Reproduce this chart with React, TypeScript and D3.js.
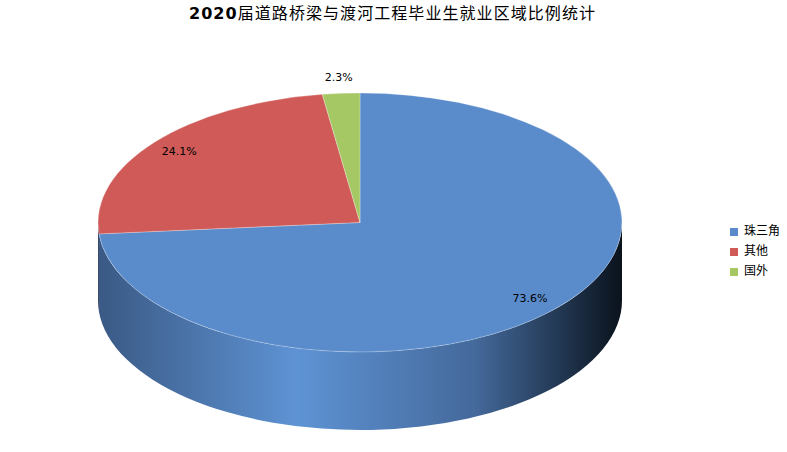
import React from "react";
import * as d3 from "d3";

const categories = ["珠三角", "其他", "国外"];
const shares = [73.6, 24.1, 2.3];
const labels = ["73.6%", "24.1%", "2.3%"];
const colors = ["#5a8bcb", "#cf5a57", "#a6c864"];
const sideStops = [
  ["#3a5984", "#5e93d4", "#44699b", "#223853", "#0a121c"],
  ["#3c4666", "#d4625e", "#9a4542", "#5a2826", "#1c0c0b"],
  ["#62783a", "#a9cc68", "#7c9a46", "#48592a", "#161c0c"],
];
const title = "2020届道路桥梁与渡河工程毕业生就业区域比例统计";

const W = 787;
const H = 452;
const cx = 360;
const cy = 222.5;
const rx = 262;
const ry = 129.5;
const depth = 78;

function pt(a: number, dy = 0): [number, number] {
  return [cx + rx * Math.sin(a), cy - ry * Math.cos(a) + dy];
}

export default function App() {
  const pie = d3
    .pie<number>()
    .sort(null)
    .startAngle(0)
    .endAngle(2 * Math.PI)
    .value((d) => d);
  const arcs = pie(shares);

  const topPath = (s: number, e: number) => {
    const [x0, y0] = pt(s);
    const [x1, y1] = pt(e);
    const large = e - s > Math.PI ? 1 : 0;
    return `M${cx},${cy}L${x0},${y0}A${rx},${ry} 0 ${large} 1 ${x1},${y1}Z`;
  };

  const sidePath = (s: number, e: number) => {
    const [x0, y0] = pt(s);
    const [x1, y1] = pt(e);
    const [x2, y2] = pt(e, depth);
    const [x3, y3] = pt(s, depth);
    return `M${x0},${y0}A${rx},${ry} 0 0 1 ${x1},${y1}L${x2},${y2}A${rx},${ry} 0 0 0 ${x3},${y3}Z`;
  };

  const front0 = Math.PI / 2;
  const front1 = (3 * Math.PI) / 2;
  const offsets = [0, 0.38, 0.72, 0.88, 1];

  return (
    <svg width={W} height={H} style={{ display: "block", position: "absolute", left: 0, top: 0 }}>
      <defs>
        {sideStops.map((stops, i) => (
          <linearGradient key={i} id={`side${i}`} gradientUnits="userSpaceOnUse" x1={cx - rx} x2={cx + rx} y1={0} y2={0}>
            {stops.map((c, j) => (
              <stop key={j} offset={offsets[j]} stopColor={c} />
            ))}
          </linearGradient>
        ))}
      </defs>
      <rect width={W} height={H} fill="#fff" />
      <text
        x={392}
        y={19}
        textAnchor="middle"
        fontFamily="'Noto Sans CJK SC', sans-serif"
        fontSize={16}
        fill="#000"
        textLength={406}
        lengthAdjust="spacing"
      >
        <tspan fontWeight="bold" fontFamily="'DejaVu Sans', sans-serif">2020</tspan>
        {title.slice(4)}
      </text>

      {/* side wall, front half only */}
      {arcs.map((a, i) => {
        const s = Math.max(a.startAngle, front0);
        const e = Math.min(a.endAngle, front1);
        if (e <= s) return null;
        return <path key={`s${i}`} d={sidePath(s, e)} fill={`url(#side${i})`} />;
      })}

      {/* top face */}
      {arcs.map((a, i) => (
        <path
          key={`t${i}`}
          d={topPath(a.startAngle, a.endAngle)}
          fill={colors[i]}
          stroke="rgba(255,255,255,0.35)"
          strokeWidth={0.8}
        />
      ))}

      {/* value labels */}
      {arcs.map((a, i) => {
        const mid = (a.startAngle + a.endAngle) / 2;
        const f = a.endAngle - a.startAngle < 0.3 ? 1.12 : 0.88;
        const x = cx + f * rx * Math.sin(mid);
        const y = cy - f * ry * Math.cos(mid);
        return (
          <text
            key={`l${i}`}
            x={x}
            y={y}
            textAnchor="middle"
            dominantBaseline="middle"
            fontFamily="'DejaVu Sans', sans-serif"
            fontSize={11}
            fill="#000"
          >
            {labels[i]}
          </text>
        );
      })}

      {/* legend */}
      {categories.map((c, i) => (
        <g key={`g${i}`} transform={`translate(730, ${228 + i * 20})`}>
          <rect width={8} height={8} fill={colors[i]} />
          <text
            x={14}
            y={4}
            dominantBaseline="middle"
            fontFamily="'Noto Sans CJK SC', sans-serif"
            fontSize={12}
            fill="#000"
          >
            {c}
          </text>
        </g>
      ))}
    </svg>
  );
}
